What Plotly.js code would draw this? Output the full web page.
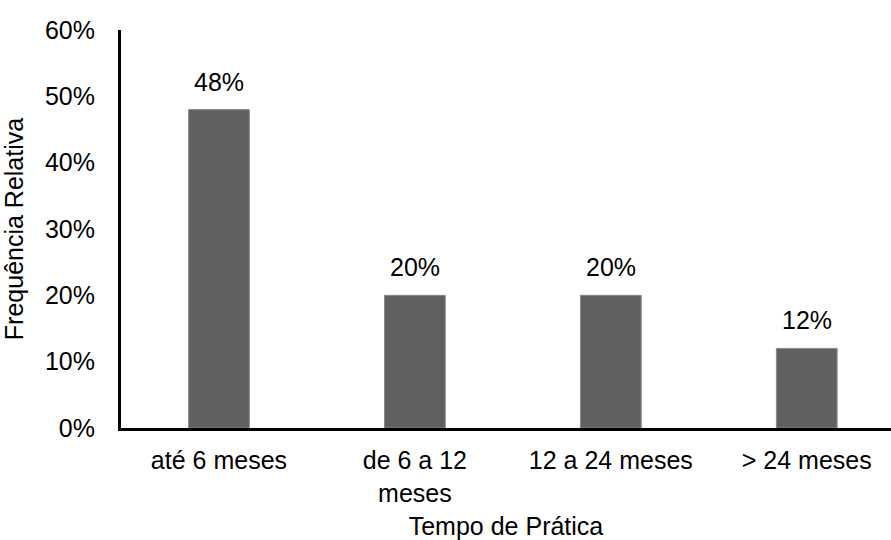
<!DOCTYPE html>
<html>
<head>
<meta charset="utf-8">
<script src="https://cdn.plot.ly/plotly-3.0.1.min.js"></script>
<style>html,body{margin:0;padding:0;background:#fff;}#chart{width:891px;height:540px;}</style>
</head>
<body>
<div id="chart"></div>
<script>
const categories = ["até 6 meses", "de 6 a 12<br>meses", "12 a 24 meses", "> 24 meses"];
const values = [0.48, 0.20, 0.20, 0.12];
const valueLabels = ["48%", "20%", "20%", "12%"];
const yTickVals = [0, 0.1, 0.2, 0.3, 0.4, 0.5, 0.6];
const yTickText = ["0%", "10%", "20%", "30%", "40%", "50%", "60%"];

const font = "Liberation Sans, Arial, sans-serif";
const fs = 25;

const trace = {
  type: "bar",
  x: [0, 1, 2, 3],
  y: values,
  width: 0.31,
  marker: {color: "#606060", line: {color: "#8a8a8a", width: 1}},
  hoverinfo: "skip"
};

const annotations = values.map((v, i) => ({
  x: i, y: v, xref: "x", yref: "y",
  text: valueLabels[i], showarrow: false,
  yanchor: "bottom", yshift: 12,
  font: {family: font, size: fs, color: "#000"}
}));

const layout = {
  width: 891, height: 540,
  margin: {l: 121, r: 0, t: 30, b: 112},
  paper_bgcolor: "#fff", plot_bgcolor: "#fff",
  showlegend: false,
  font: {family: font, size: fs, color: "#000"},
  xaxis: {
    range: [-0.5, 3.43],
    tickvals: [0, 1, 2, 3],
    ticktext: categories,
    showgrid: false, zeroline: false,
    showline: true, linecolor: "#000", linewidth: 3,
    ticks: "", ticklabelstandoff: 8,
    tickfont: {family: font, size: fs, color: "#000"},
    title: {text: "Tempo de Prática", font: {family: font, size: fs, color: "#000"}, standoff: 13},
    fixedrange: true
  },
  yaxis: {
    range: [0, 0.6],
    tickvals: yTickVals,
    ticktext: yTickText,
    showgrid: false, zeroline: false,
    showline: true, linecolor: "#000", linewidth: 3,
    ticks: "", ticklabelstandoff: 18,
    tickfont: {family: font, size: fs, color: "#000"},
    title: {text: "Frequência Relativa", font: {family: font, size: fs, color: "#000"}, standoff: 15},
    fixedrange: true
  },
  annotations: annotations
};

Plotly.newPlot("chart", [trace], layout, {displayModeBar: false, staticPlot: true});
</script>
</body>
</html>
